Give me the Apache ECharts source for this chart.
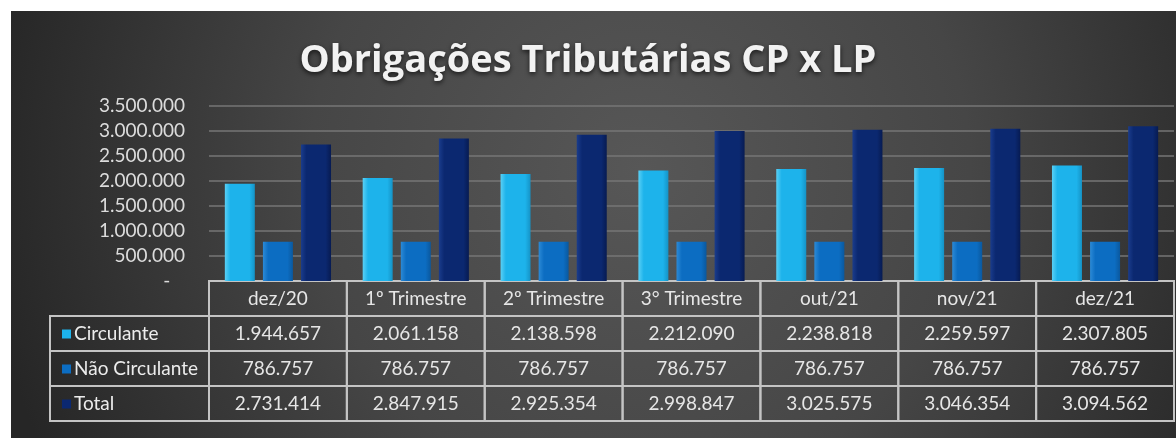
<!DOCTYPE html>
<html>
<head>
<meta charset="utf-8">
<script src="https://cdn.jsdelivr.net/npm/echarts@6/dist/echarts.min.js"></script>
<style>
html, body { margin: 0; padding: 0; background: #fff; }
#chart { width: 1176px; height: 438px; }
</style>
</head>
<body>
<div id="chart"></div>
<script>
const categories = ['dez/20', '1º Trimestre', '2º Trimestre', '3° Trimestre', 'out/21', 'nov/21', 'dez/21'];
const circulante = [1944657, 2061158, 2138598, 2212090, 2238818, 2259597, 2307805];
const naoCirculante = [786757, 786757, 786757, 786757, 786757, 786757, 786757];
const total = [2731414, 2847915, 2925354, 2998847, 3025575, 3046354, 3094562];
const seriesNames = ['Circulante', 'Não Circulante', 'Total'];
const yMin = 0;
const yMax = 3500000;
const yStep = 500000;

const fmt = n => String(n).replace(/\B(?=(\d{3})+(?!\d))/g, '.');

// cores (base, claro, escuro)
const palette = [
  ['#1db3eb', '#5ad0f5', '#1593c6'],
  ['#0c6dc2', '#2c8ad6', '#0a589e'],
  ['#0b2870', '#1a3c8c', '#071b52']
];

function barColor(i) {
  const p = palette[i];
  return {
    type: 'linear', x: 0, y: 0, x2: 1, y2: 0,
    colorStops: [
      { offset: 0, color: p[1] },
      { offset: 0.18, color: p[0] },
      { offset: 0.82, color: p[0] },
      { offset: 1, color: p[2] }
    ]
  };
}

// celulas da tabela
const values = [circulante, naoCirculante, total];
const cells = [];
categories.forEach((c, i) => cells.push({ col: i, row: 0, text: c }));
values.forEach((arr, r) => {
  cells.push({ col: -1, row: r + 1, text: seriesNames[r], color: palette[r][0] });
  arr.forEach((v, i) => cells.push({ col: i, row: r + 1, text: fmt(v) }));
});

const cellFont = '19px Lato';

function renderCell(params, api) {
  const cell = cells[params.dataIndex];
  const c = api.coord([Math.max(cell.col, 0), cell.row]);
  const s = api.size([1, 1]);
  const cs = params.coordSys;
  const y = c[1] - s[1] / 2;
  const border = { fill: 'none', stroke: '#c4c4c4', lineWidth: 2 };
  if (cell.col < 0) {
    const x = cs.x - 159;
    return {
      type: 'group',
      children: [
        { type: 'rect', shape: { x: x, y: y, width: 159, height: s[1] }, style: border },
        { type: 'rect', shape: { x: x + 12, y: c[1] - 4, width: 9, height: 9 }, style: { fill: cell.color } },
        { type: 'text', style: { text: cell.text, x: x + 24, y: c[1], align: 'left', verticalAlign: 'middle', fill: '#ececec', font: cellFont } }
      ]
    };
  }
  const x = c[0] - s[0] / 2;
  return {
    type: 'group',
    children: [
      { type: 'rect', shape: { x: x, y: y, width: s[0], height: s[1] }, style: border },
      { type: 'text', style: { text: cell.text, x: c[0], y: c[1], align: 'center', verticalAlign: 'middle', fill: '#e6e6e6', font: cellFont } }
    ]
  };
}

const chart = echarts.init(document.getElementById('chart'));

const option = {
  backgroundColor: '#ffffff',
  animation: false,
  graphic: [{
    type: 'rect',
    z: -10,
    silent: true,
    shape: { x: 11, y: 11, width: 1165, height: 427 },
    style: {
      fill: {
        type: 'radial', x: 640, y: 170, r: 660, global: true,
        colorStops: [
          { offset: 0, color: '#575757' },
          { offset: 0.5, color: '#464646' },
          { offset: 1, color: '#262626' }
        ]
      }
    }
  }],
  title: {
    text: 'Obrigações Tributárias CP x LP',
    left: 'center',
    top: 42,
    padding: 0,
    textStyle: {
      color: '#f2f2f2',
      fontFamily: 'Open Sans',
      fontWeight: 'bold',
      fontSize: 38,
      textShadowColor: 'rgba(0,0,0,0.7)',
      textShadowBlur: 5,
      textShadowOffsetY: 2
    }
  },
  grid: [
    { left: 209, right: 2, top: 106, bottom: 157 },
    { left: 209, right: 2, top: 281, bottom: 17 }
  ],
  xAxis: [
    {
      gridIndex: 0, type: 'category', data: categories,
      axisLine: { show: false }, axisTick: { show: false }, axisLabel: { show: false }
    },
    { gridIndex: 1, type: 'category', data: categories, show: false }
  ],
  yAxis: [
    {
      gridIndex: 0, type: 'value', min: yMin, max: yMax, interval: yStep,
      axisLabel: {
        color: '#dcdcdc', fontFamily: 'Lato', fontSize: 19, margin: 24,
        formatter: v => (v === 0 ? '-   ' : fmt(v))
      },
      splitLine: { lineStyle: { color: '#767676', width: 1.5 } }
    },
    { gridIndex: 1, type: 'category', data: ['', ...seriesNames], inverse: true, show: false }
  ],
  series: [
    ...values.map((arr, i) => ({
      name: seriesNames[i],
      type: 'bar',
      xAxisIndex: 0,
      yAxisIndex: 0,
      data: arr,
      barWidth: 30,
      barGap: '27%',
      itemStyle: { color: barColor(i) }
    })),
    {
      type: 'custom',
      xAxisIndex: 1,
      yAxisIndex: 1,
      clip: false,
      silent: true,
      data: cells.map(c => [Math.max(c.col, 0), c.row]),
      renderItem: renderCell
    }
  ]
};

chart.setOption(option);
</script>
</body>
</html>
